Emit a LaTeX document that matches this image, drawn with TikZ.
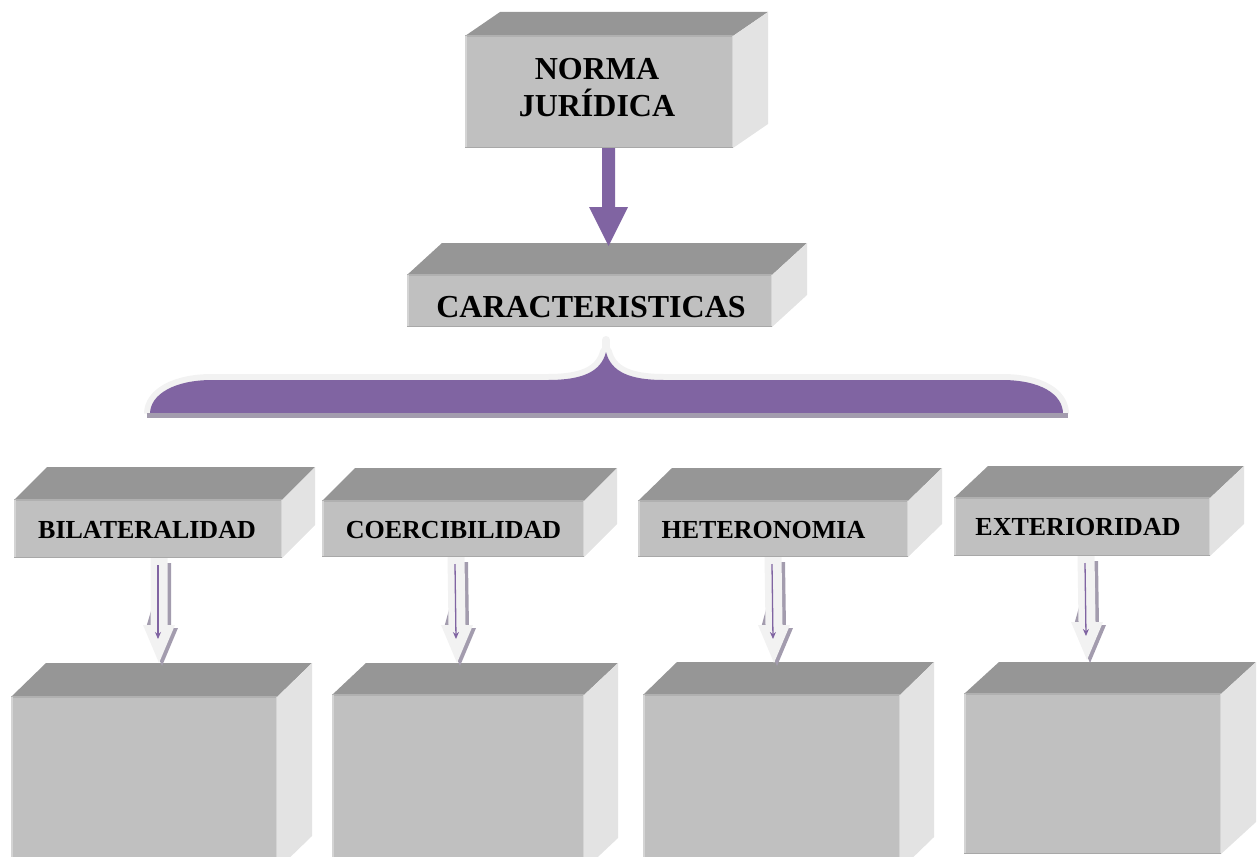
\documentclass[tikz,border=0pt]{standalone}
\usepackage{fontspec}
\setmainfont{Liberation Serif}
\usetikzlibrary{calc,arrows.meta}
\definecolor{frontc}{HTML}{C0C0C0}
\definecolor{topc}{HTML}{969696}
\definecolor{sidec}{HTML}{E3E3E3}
\definecolor{purp}{HTML}{8064A2}
\definecolor{pale}{HTML}{F2F2F2}
\definecolor{shad}{HTML}{A39CAE}
\definecolor{edged}{HTML}{A8A8A8}
\definecolor{edgel}{HTML}{D4D4D4}
\definecolor{edgem}{HTML}{B0B0B0}

\newcommand\cuboid[7]{% #1 name, #2 x1, #3 y1, #4 x2, #5 y2, #6 dx, #7 dy (up)
  \node[frontbox, minimum width={#4-#2}, minimum height={#5-#3}] (#1) at ({(#2+#4)/2},{(#3+#5)/2}) {};
  \fill[topc] (#1.north west) -- ++(#6,-#7) -- ++({#4-#2},0) -- (#1.north east) -- cycle;
  \fill[sidec] (#1.north east) -- ++(#6,-#7) -- ++(0,{#5-#3}) -- (#1.south east) -- cycle;
  \draw[edgem, line width=1.2] (#1.north west) -- (#1.north east);
  \draw[edgel, line width=1.5] ($(#1.north west)+(0.75,0)$) -- ($(#1.south west)+(0.75,0)$);
  \draw[edgel, line width=1.2] ($(#1.north east)+(-0.6,0)$) -- ($(#1.south east)+(-0.6,0)$);
  \draw[edged, line width=1.5] ($(#1.south west)+(0,-0.75)$) -- ($(#1.south east)+(0,-0.75)$);
}
\newcommand\hollowarrow[2]{% #1 start coordinate, #2 tip coordinate
  \fill[shad] ($(#1)+(6,5)$) -- ($(#1)+(12,5)$) -- ($(#2)+(12,-35)$) -- ($(#2)+(19,-35)$) -- ($(#2)+(3,3)$) -- ($(#2)+(-13,-35)$) -- cycle;
  \fill[pale] ($(#1)+(-8.5,0)$) -- ($(#1)+(8.5,0)$) -- ($(#2)+(8.5,-38)$) -- ($(#2)+(16,-38)$) -- (#2) -- ($(#2)+(-16,-38)$) -- ($(#2)+(-8.5,-38)$) -- cycle;
  \draw[purp, line width=1.3, -{Stealth[length=7,width=6]}] ($(#1)+(-1,7)$) -- ($(#2)+(-1,-24)$);
}

\begin{document}
\begin{tikzpicture}[x=1pt,y=-1pt,
  frontbox/.style={fill=frontc, draw=none, inner sep=0, outer sep=0, rectangle},
  lbl/.style={font=\bfseries\fontsize{26}{30}\selectfont, inner sep=0, anchor=base},
  biglbl/.style={font=\bfseries\fontsize{32}{37}\selectfont, inner sep=0}]
\useasboundingbox (0,0) rectangle (1257,856);
\clip (0,0) rectangle (1257,856);

% top box
\cuboid{norma}{465}{36}{733}{148}{35}{24}
\node[biglbl, align=center] (tnorma) at (597,88) {NORMA\\JURÍDICA};

% caracteristicas
\cuboid{caract}{407}{275}{772}{327}{35}{32}
\node[biglbl, anchor=base] (tcar) at (591,317) {CARACTERISTICAS};

% big arrow
\coordinate (bigs) at ($(norma.south)+(9.5,0)$);
\coordinate (bige) at ($(caract.north)+(19,-29)$);
\fill[purp] ($(bigs)+(-6.5,0)$) -- ($(bigs)+(6.5,0)$) -- ($(bige)+(6.5,-39)$) -- ($(bige)+(19.5,-39)$) -- (bige) -- ($(bige)+(-19.5,-39)$) -- ($(bige)+(-6.5,-39)$) -- cycle;

% brace
\fill[shad] (147,413) rectangle (1068,418);
\fill[black!55!shad] (147,413) rectangle (150,418);
\fill[black!55!shad] (1064,413) rectangle (1068,418);
\draw[pale, line width=12, line join=round] (150,414) .. controls (150,394) and (175,380) .. (212,380) -- (548,380) .. controls (582,380) and (601,372) .. (606,352) .. controls (611,372) and (630,380) .. (664,380) -- (1002,380) .. controls (1040,380) and (1063,394) .. (1063,414);
\draw[pale, line width=8, line cap=round] (606,352) -- (606,340);
\fill[purp] (150,414) .. controls (150,394) and (175,380) .. (212,380) -- (548,380) .. controls (582,380) and (601,372) .. (606,352) .. controls (611,372) and (630,380) .. (664,380) -- (1002,380) .. controls (1040,380) and (1063,394) .. (1063,414) -- cycle;
\fill[shad] (147,413) rectangle (1068,418);

% middle row
\cuboid{b1}{14}{500}{282}{558}{33}{33}
\cuboid{b2}{322}{501}{584}{557}{33}{33}
\cuboid{b3}{638}{501}{908}{557}{34}{33}
\cuboid{b4}{954}{498}{1210}{556}{34}{32}
\node[lbl] (t1) at (147,538) {BILATERALIDAD};
\node[lbl] (t2) at (453.5,538) {COERCIBILIDAD};
\node[lbl] (t3) at (763.5,538) {HETERONOMIA};
\node[lbl] (t4) at (1078,535) {EXTERIORIDAD};

% bottom row
\cuboid{c1}{11}{697}{277}{870}{35}{34}
\cuboid{c2}{332}{695}{584}{870}{34}{32}
\cuboid{c3}{643}{695}{900}{870}{34}{33}
\cuboid{c4}{964}{694}{1221}{854}{35}{32}

% small arrows
\coordinate (a1s) at ($(b1.south)+(11,0)$);
\coordinate (a1e) at ($(c1.north)+(15,-34)$);
\coordinate (a2s) at ($(b2.south)+(3,0)$);
\coordinate (a2e) at ($(c2.north)+(-1,-32)$);
\coordinate (a3s) at ($(b3.south)+(0,0)$);
\coordinate (a3e) at ($(c3.north)+(2.5,-32)$);
\coordinate (a4s) at ($(b4.south)+(4,0)$);
\coordinate (a4e) at ($(c4.north)+(-5.5,-34)$);
\hollowarrow{a1s}{a1e}
\hollowarrow{a2s}{a2e}
\hollowarrow{a3s}{a3e}
\hollowarrow{a4s}{a4e}
\end{tikzpicture}
\end{document}
